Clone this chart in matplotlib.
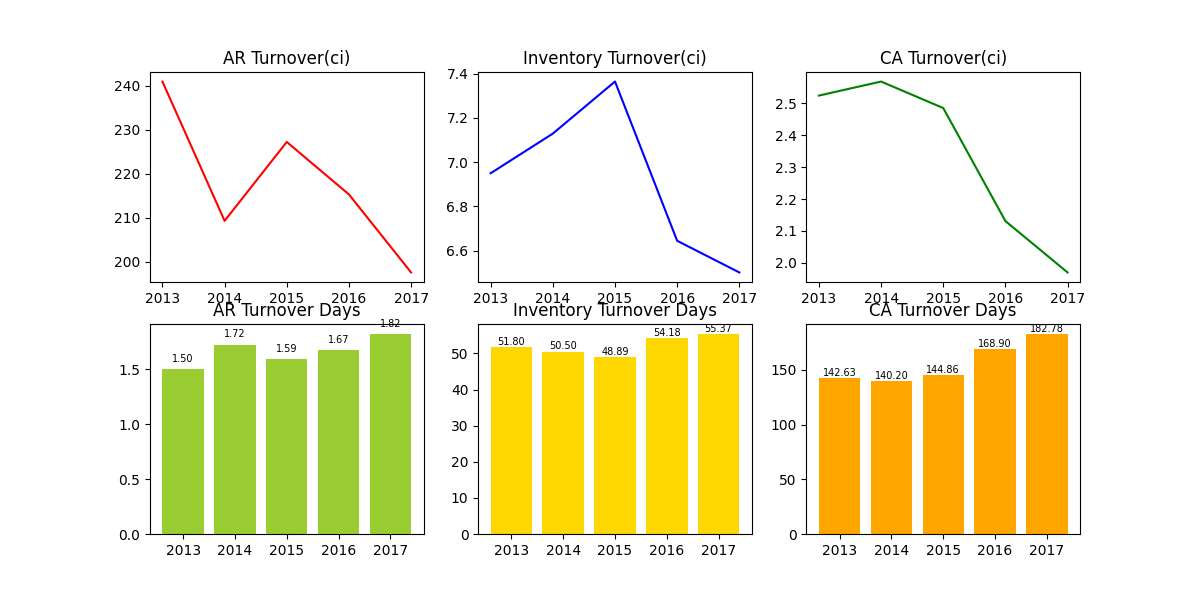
import matplotlib
matplotlib.use('Agg')
import matplotlib.pyplot as plt

years = [2013, 2014, 2015, 2016, 2017]
year_labels = ['2013', '2014', '2015', '2016', '2017']

ar_turnover = [240.9, 209.3, 227.2, 215.3, 197.6]
inv_turnover = [6.950, 7.129, 7.364, 6.645, 6.502]
ca_turnover = [2.524, 2.568, 2.485, 2.131, 1.970]

ar_days = [1.50, 1.72, 1.59, 1.67, 1.82]
inv_days = [51.80, 50.50, 48.89, 54.18, 55.37]
ca_days = [142.63, 140.20, 144.86, 168.90, 182.78]

fig = plt.figure(figsize=(12, 6), dpi=100)

ax = fig.add_subplot(2, 3, 1)
ax.plot(years, ar_turnover, color='red')
ax.set_title('AR Turnover(ci)')
ax.set_xticks(years)

ax = fig.add_subplot(2, 3, 2)
ax.plot(years, inv_turnover, color='blue')
ax.set_title('Inventory Turnover(ci)')
ax.set_xticks(years)

ax = fig.add_subplot(2, 3, 3)
ax.plot(years, ca_turnover, color='green')
ax.set_title('CA Turnover(ci)')
ax.set_xticks(years)


def bar_panel(pos, vals, color, title):
    ax = fig.add_subplot(2, 3, pos)
    ax.bar(year_labels, vals, color=color)
    for i, v in enumerate(vals):
        ax.text(i, v + 0.05, '%.2f' % v, ha='center', va='bottom', fontsize=7)
    ax.set_title(title)


bar_panel(4, ar_days, 'yellowgreen', 'AR Turnover Days')
bar_panel(5, inv_days, 'gold', 'Inventory Turnover Days')
bar_panel(6, ca_days, 'orange', 'CA Turnover Days')

plt.savefig('out.png', dpi=100)
